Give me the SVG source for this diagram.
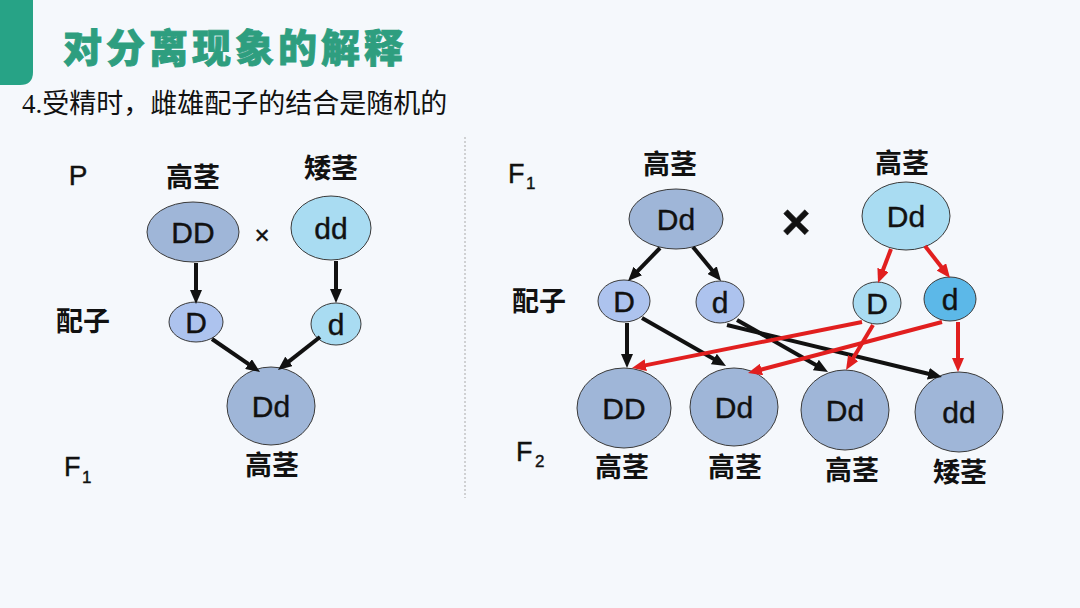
<svg xmlns="http://www.w3.org/2000/svg" width="1080" height="608" viewBox="0 0 1080 608">
<style>
.bg{fill:#F5F8FC}
.lat{font-family:"Liberation Sans",Arial,sans-serif;fill:#111;text-anchor:middle;stroke:#111;stroke-width:0.4}
.cjk{font-family:"Noto Sans CJK SC",sans-serif;fill:#111;text-anchor:middle;font-size:27px;font-weight:bold}
.gl{font-size:30px}
.big{fill:#9FB6D8;stroke:#3a3a3a;stroke-width:1}
.peri{fill:#ADC3EE;stroke:#3a3a3a;stroke-width:1}
.cyan{fill:#A9DCF2;stroke:#3a3a3a;stroke-width:1}
.sat{fill:#5CB8E8;stroke:#3a3a3a;stroke-width:1}
.blk{stroke:#111;stroke-width:4;fill:none;marker-end:url(#ab)}
.red{stroke:#E11F1F;stroke-width:4;fill:none;marker-end:url(#ar)}
</style>
<defs>
<marker id="ab" markerUnits="userSpaceOnUse" markerWidth="14" markerHeight="12" refX="2" refY="6" orient="auto"><path d="M0,0 L14,6 L0,12 z" fill="#111"/></marker>
<marker id="ar" markerUnits="userSpaceOnUse" markerWidth="14" markerHeight="12" refX="2" refY="6" orient="auto"><path d="M0,0 L14,6 L0,12 z" fill="#E11F1F"/></marker>
</defs>
<rect class="bg" x="0" y="0" width="1080" height="608"/>
<path d="M0,0 H33 V72 Q33,85 20,85 H0 Z" fill="#27A386"/>
<text x="63" y="62" font-family="'Noto Sans CJK SC',sans-serif" font-size="39" font-weight="900" letter-spacing="4" fill="#2E9E7F" stroke="#2E9E7F" stroke-width="0.8">对分离现象的解释</text>
<text x="22" y="113" font-size="27" fill="#111"><tspan font-family="'Liberation Serif',serif">4.</tspan><tspan font-family="'Noto Sans CJK SC',sans-serif">受精时，雌雄配子的结合是随机的</tspan></text>
<line x1="465" y1="137" x2="465" y2="498" stroke="#AAAAAA" stroke-width="1" stroke-dasharray="2 2"/>

<g id="labels-left">
<text class="lat" x="78" y="185" font-size="28">P</text>
<text class="cjk" x="83" y="331">配子</text>
<text class="lat" x="64" y="476" font-size="27" style="text-anchor:start">F</text>
<text class="lat" x="82" y="483" font-size="17" style="text-anchor:start">1</text>
<text class="cjk" x="193" y="187">高茎</text>
<text class="cjk" x="331" y="178">矮茎</text>
<text class="lat" x="262" y="244" font-size="26">×</text>
<text class="cjk" x="272" y="475">高茎</text>
</g>

<g id="node-P-DD"><ellipse class="big" cx="193" cy="232" rx="46" ry="30"/><text class="lat gl" x="193" y="243">DD</text></g>
<g id="node-P-dd"><ellipse class="cyan" cx="331" cy="228" rx="40" ry="32"/><text class="lat gl" x="331" y="239">dd</text></g>
<g id="node-gL-D"><ellipse class="peri" cx="196" cy="322" rx="27" ry="20"/><text class="lat gl" x="196" y="333">D</text></g>
<g id="node-gL-d"><ellipse class="cyan" cx="336" cy="324" rx="25" ry="21"/><text class="lat gl" x="336" y="335">d</text></g>
<g id="node-F1-Dd"><ellipse class="big" cx="271" cy="406" rx="44" ry="39"/><text class="lat gl" x="271" y="417">Dd</text></g>

<g id="labels-right">
<text class="lat" x="508" y="183" font-size="27" style="text-anchor:start">F</text>
<text class="lat" x="526" y="189" font-size="17" style="text-anchor:start">1</text>
<text class="cjk" x="539" y="311">配子</text>
<text class="lat" x="516" y="461" font-size="27" style="text-anchor:start">F</text>
<text class="lat" x="535" y="467" font-size="17" style="text-anchor:start">2</text>
<text class="cjk" x="670" y="174">高茎</text>
<text class="cjk" x="902" y="173">高茎</text>
<text class="lat" x="796" y="239" font-size="50" font-weight="bold">×</text>
<text class="cjk" x="622" y="477">高茎</text>
<text class="cjk" x="735" y="477">高茎</text>
<text class="cjk" x="852" y="480">高茎</text>
<text class="cjk" x="960" y="482">矮茎</text>
</g>

<g id="node-F1a"><ellipse class="big" cx="676" cy="219" rx="47" ry="30"/><text class="lat gl" x="676" y="230">Dd</text></g>
<g id="node-F1b"><ellipse class="cyan" cx="906" cy="216" rx="44" ry="34"/><text class="lat gl" x="906" y="227">Dd</text></g>
<g id="node-gR-D1"><ellipse class="peri" cx="624" cy="301" rx="26" ry="21"/><text class="lat gl" x="624" y="312">D</text></g>
<g id="node-gR-d1"><ellipse class="peri" cx="720" cy="302" rx="24" ry="21"/><text class="lat gl" x="720" y="313">d</text></g>
<g id="node-gR-D2"><ellipse class="cyan" cx="877" cy="303" rx="24" ry="21"/><text class="lat gl" x="877" y="314">D</text></g>
<g id="node-gR-d2"><ellipse class="sat" cx="950" cy="299" rx="26" ry="22"/><text class="lat gl" x="950" y="310">d</text></g>
<g id="node-F2-DD"><ellipse class="big" cx="624" cy="408" rx="47" ry="40"/><text class="lat gl" x="624" y="419">DD</text></g>
<g id="node-F2-Dd1"><ellipse class="big" cx="734" cy="407" rx="44" ry="39"/><text class="lat gl" x="734" y="418">Dd</text></g>
<g id="node-F2-Dd2"><ellipse class="big" cx="845" cy="410" rx="44" ry="40"/><text class="lat gl" x="845" y="421">Dd</text></g>
<g id="node-F2-dd"><ellipse class="big" cx="959" cy="412" rx="44" ry="40"/><text class="lat gl" x="959" y="423">dd</text></g>

<g id="connectors">
<line class="blk" x1="196" y1="263" x2="196" y2="292"/>
<line class="blk" x1="336" y1="261" x2="336" y2="291"/>
<line class="blk" x1="212" y1="339" x2="250.1" y2="365.2"/>
<line class="blk" x1="320" y1="337" x2="287.4" y2="362.6"/>
<line class="blk" x1="660" y1="248" x2="636.4" y2="272.4"/>
<line class="blk" x1="693" y1="247" x2="713.4" y2="271.7"/>
<line class="blk" x1="627" y1="323" x2="627" y2="356"/>
<line class="blk" x1="642" y1="318" x2="715.6" y2="360"/>
<line class="blk" x1="737" y1="320" x2="817.6" y2="366"/>
<line class="blk" x1="727" y1="325" x2="930.3" y2="374.2"/>
<line class="red" x1="891" y1="249" x2="882.3" y2="271.8"/>
<line class="red" x1="925" y1="246" x2="942.6" y2="268.5"/>
<line class="red" x1="862" y1="322" x2="643.8" y2="365.6"/>
<line class="red" x1="873" y1="325" x2="852.2" y2="359.7"/>
<line class="red" x1="942" y1="322" x2="759.6" y2="370"/>
<line class="red" x1="958" y1="322" x2="958" y2="360"/>
</g>
</svg>
